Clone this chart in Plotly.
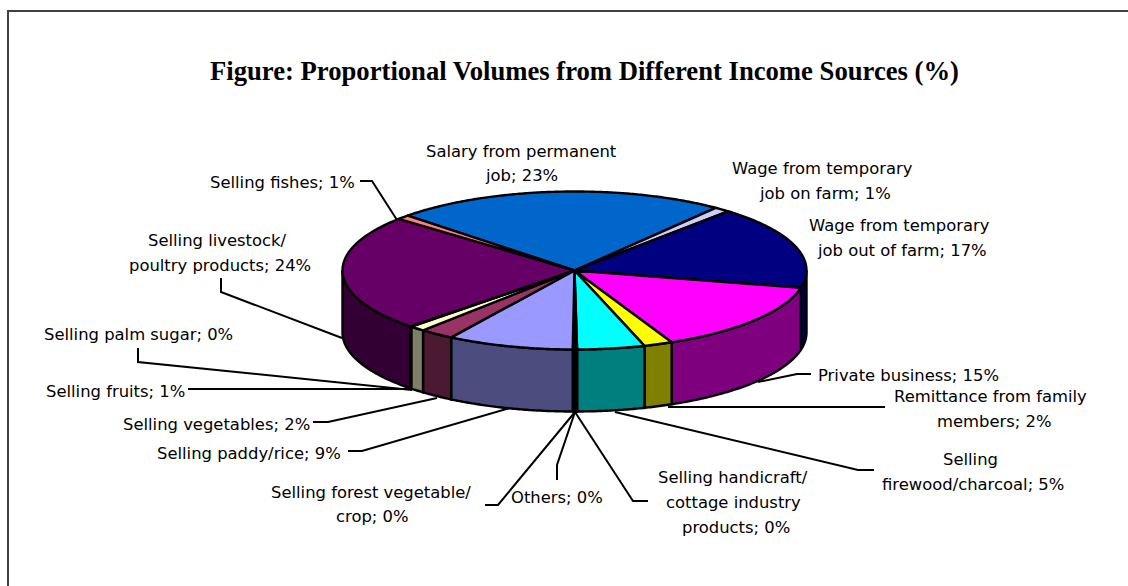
import numpy as np
import plotly.graph_objects as go

# Income sources, clockwise from the salary slice
categories = [
    "Salary from permanent|job",
    "Wage from temporary|job on farm",
    "Wage from temporary|job out of farm",
    "Private business",
    "Remittance from family|members",
    "Selling|firewood/charcoal",
    "Selling handicraft/|cottage industry|products",
    "Others",
    "Selling forest vegetable/|crop",
    "Selling paddy/rice",
    "Selling vegetables",
    "Selling fruits",
    "Selling palm sugar",
    "Selling livestock/|poultry products",
    "Selling fishes",
]
values = [23.2, 1.1, 17.0, 14.6, 2.0, 4.7, 0.1, 0.1, 0.1, 8.8, 2.4, 1.1, 0.1, 23.8, 0.9]
colors = [
    "#0066CC", "#CCCCFF", "#000080", "#FF00FF", "#FFFF00", "#00FFFF", "#800080",
    "#800000", "#008080", "#9999FF", "#993366", "#FFFFCC", "#CCFFFF", "#660066", "#FF8080",
]

title = "Figure: Proportional Volumes from Different Income Sources (%)"

# Pie geometry in page pixels
CX, CY, RX, RY, DEPTH = 574.5, 270.5, 232.0, 79.0, 62.0
START_DEG = -46.0

# Centre of every text line for each category
label_pos = [
    [(521, 151), (521, 175)],
    [(822, 168), (825, 193)],
    [(899, 225), (902, 250)],
    [(908, 375)],
    [(990, 396), (994, 421)],
    [(970, 459), (973, 484)],
    [(733, 477), (733, 502), (736, 527)],
    [(557, 497)],
    [(371, 492), (372, 516)],
    [(249, 453)],
    [(216, 424)],
    [(115, 391)],
    [(138, 334)],
    [(217, 240), (220, 265)],
    [(282, 182)],
]

# Leader lines joining the labels to the pie
leaders = [
    [(360, 181), (372, 181), (397, 220)],
    [(221, 278), (221, 292), (342, 338)],
    [(138, 348), (138, 362), (412, 390)],
    [(188, 389), (412, 389)],
    [(313, 422), (328, 422), (437, 398)],
    [(348, 451), (362, 451), (510, 408)],
    [(485, 505), (498, 505), (575, 412)],
    [(557, 480), (557, 465), (575, 412)],
    [(575, 412), (633, 501), (648, 501)],
    [(615, 412), (858, 470), (874, 470)],
    [(668, 407), (885, 407)],
    [(758, 382), (797, 374), (811, 374)],
]


def shade(hex_color):
    r, g, b = (int(hex_color[i:i + 2], 16) // 2 for i in (1, 3, 5))
    return f"#{r:02X}{g:02X}{b:02X}"


def rim(theta_deg, drop=0.0):
    t = np.radians(theta_deg)
    return CX + RX * np.sin(t), CY - RY * np.cos(t) + drop


fig = go.Figure()


def polygon(xs, ys, fill):
    fig.add_trace(go.Scatter(
        x=xs, y=ys, mode="lines", fill="toself", fillcolor=fill,
        line=dict(color="black", width=2.4, simplify=False), hoverinfo="skip", showlegend=False,
    ))


for path in leaders:
    fig.add_trace(go.Scatter(
        x=[p[0] for p in path], y=[p[1] for p in path], mode="lines",
        line=dict(color="black", width=2), hoverinfo="skip", showlegend=False,
    ))

total = sum(values)
edges = START_DEG + np.cumsum([0.0] + values) * 360.0 / total

# Outer wall: only the part of each slice facing the viewer
for v, c, a, b in zip(values, colors, edges[:-1], edges[1:]):
    lo, hi = max(a, 90.0), min(b, 270.0)
    if lo >= hi:
        continue
    t = np.linspace(lo, hi, max(2, int((hi - lo) * 2) + 2))
    x1, y1 = rim(t)
    x2, y2 = rim(t[::-1], DEPTH)
    polygon(np.r_[x1, x2, x1[0]], np.r_[y1, y2, y1[0]], shade(c))

# Top face
for v, c, a, b in zip(values, colors, edges[:-1], edges[1:]):
    t = np.linspace(a, b, max(2, int((b - a) * 2) + 2))
    x, y = rim(t)
    polygon(np.r_[CX, x, CX], np.r_[CY, y, CY], c)

annotations = [dict(
    x=584, y=71, xref="x", yref="y", text=f"<b>{title}</b>", showarrow=False,
    font=dict(family="Liberation Serif", size=26.67, color="black"),
    xanchor="center", yanchor="middle",
)]
for name, v, spots in zip(categories, values, label_pos):
    lines = name.split("|")
    lines[-1] = f"{lines[-1]}; {round(v)}%"
    for text, (lx, ly) in zip(lines, spots):
        annotations.append(dict(
            x=lx, y=ly, xref="x", yref="y", text=text, showarrow=False,
            font=dict(family="DejaVu Sans", size=16.4, color="black"),
            xanchor="center", yanchor="middle",
        ))

# Frame around the figure, open at the page edges
fig.add_shape(type="path", path="M 8 586 L 8 11 L 1128 11", xref="x", yref="y",
              line=dict(color="#404040", width=2))

fig.update_layout(
    width=1128, height=586, margin=dict(l=0, r=0, t=0, b=0),
    paper_bgcolor="white", plot_bgcolor="white", showlegend=False,
    xaxis=dict(range=[0, 1128], visible=False, fixedrange=True),
    yaxis=dict(range=[586, 0], visible=False, fixedrange=True),
    annotations=annotations,
)

fig.write_html("out.html")
